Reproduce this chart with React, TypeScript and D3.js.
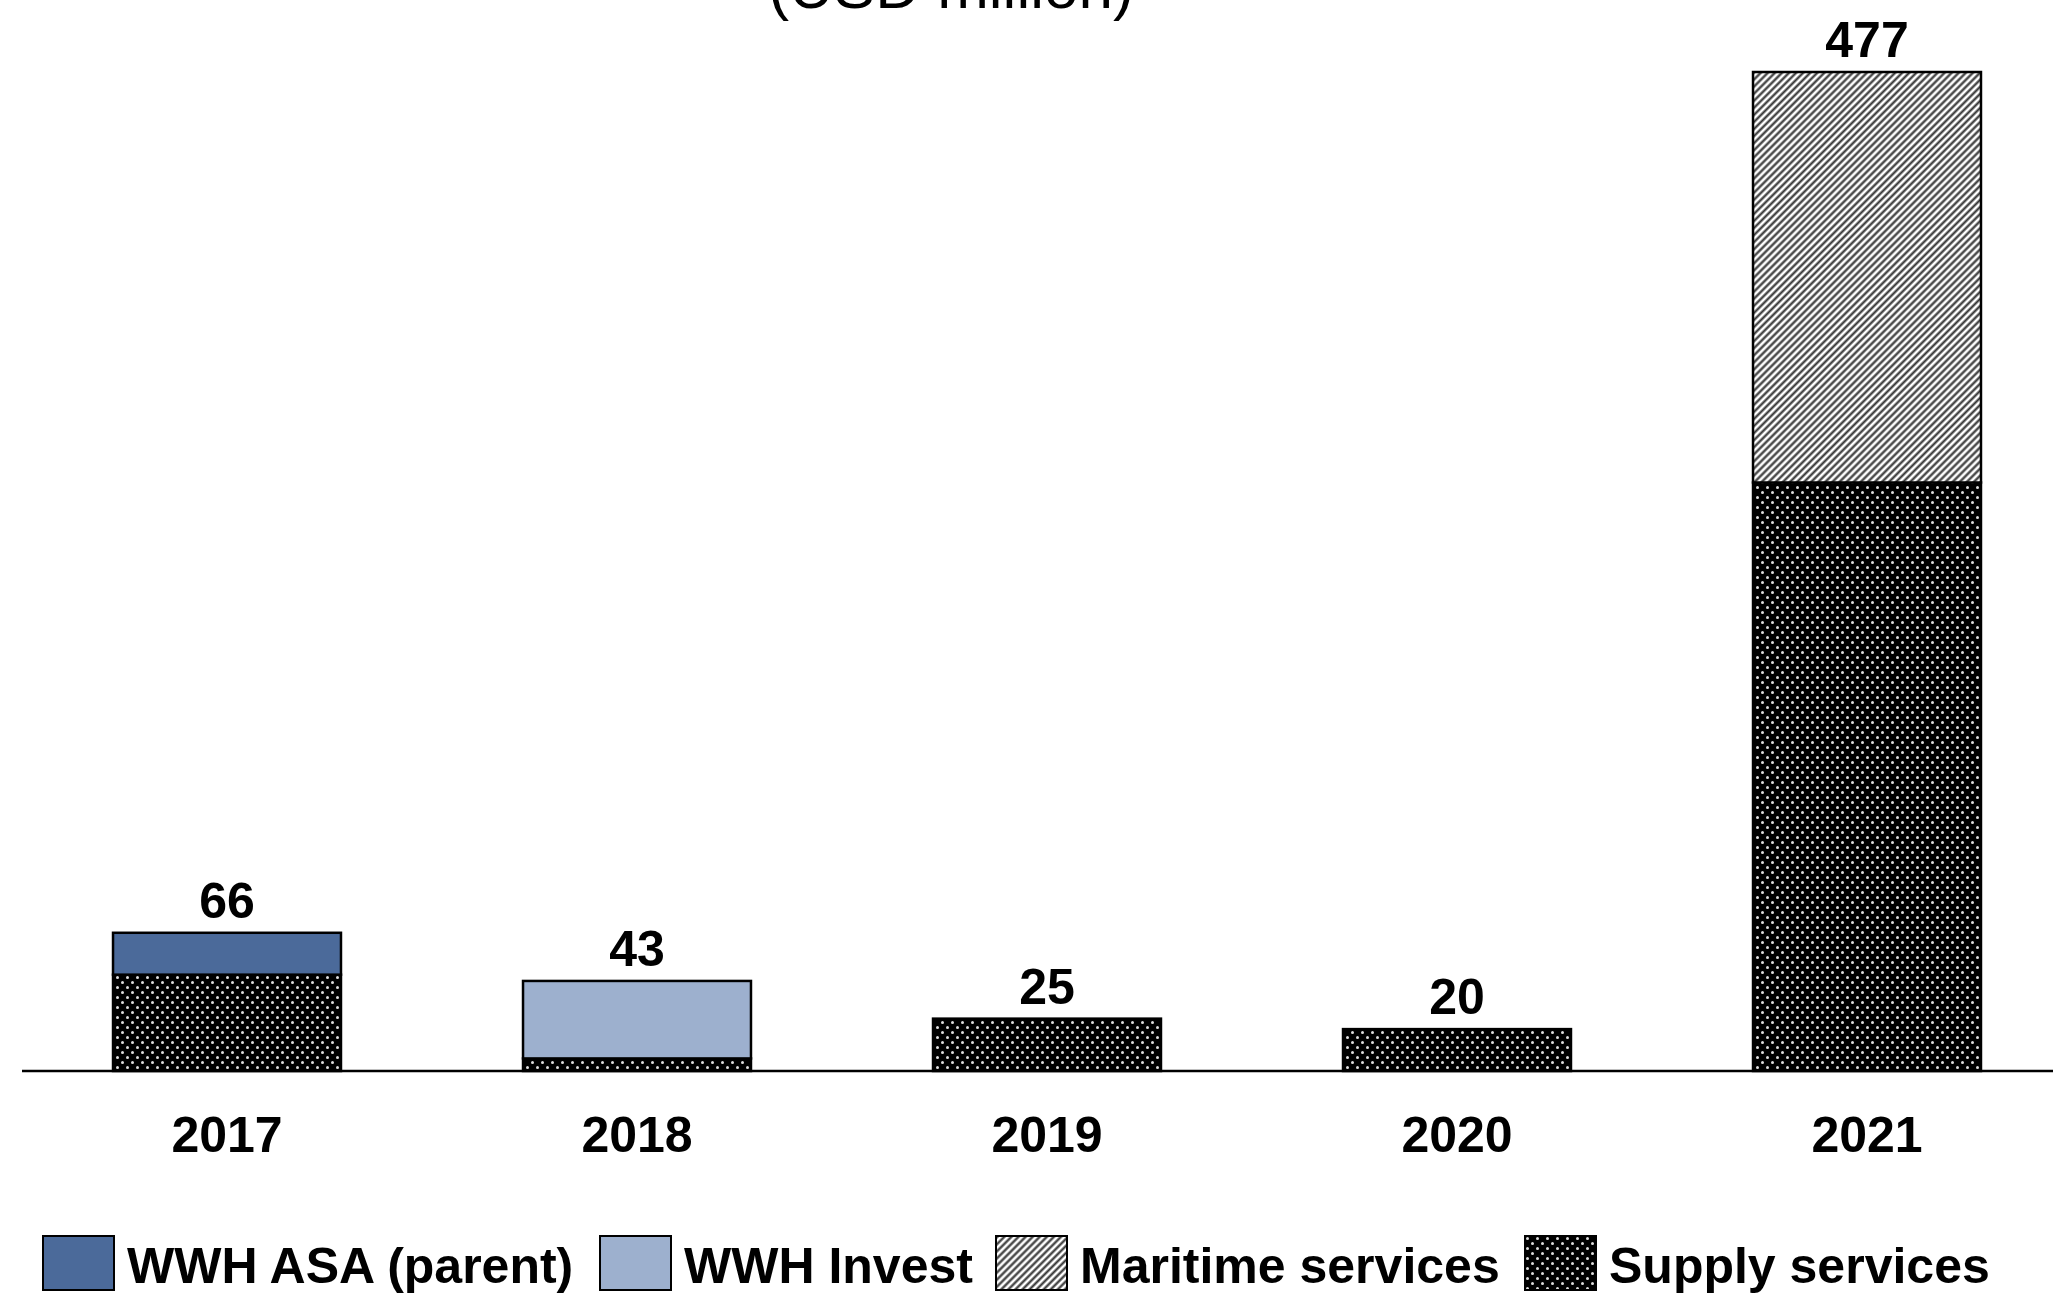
import React from 'react';
import * as d3 from 'd3';

const years = ['2017', '2018', '2019', '2020', '2021'];
const supplyServices = [46, 6, 25, 20, 281];
const wwhParent = [20, 0, 0, 0, 0];
const wwhInvest = [0, 37, 0, 0, 0];
const maritimeServices = [0, 0, 0, 0, 196];
const totals = [66, 43, 25, 20, 477];

const seriesKeys = ['supply', 'parent', 'invest', 'maritime'];
const legendLabels = ['WWH ASA (parent)', 'WWH Invest', 'Maritime services', 'Supply services'];
const legendKeys = ['parent', 'invest', 'maritime', 'supply'];

const W = 2053;
const H = 1298;
const FONT = '"Liberation Sans", Arial, Helvetica, sans-serif';

const fills: Record<string, string> = {
  parent: '#4B6A9A',
  invest: '#9DB0CE',
  maritime: 'url(#stripes)',
  supply: 'url(#dots)',
};

export default function App() {
  const rows = years.map((y, i) => ({
    year: y,
    supply: supplyServices[i],
    parent: wwhParent[i],
    invest: wwhInvest[i],
    maritime: maritimeServices[i],
  }));
  const stack = d3.stack<any>().keys(seriesKeys)(rows);

  const x = d3.scaleBand<string>().domain(years).range([22, 2072]).paddingInner(0.444).paddingOuter(0.222);
  const axisY = 1071;
  const y = d3.scaleLinear().domain([0, 477]).range([axisY, 72]);

  const legendX = [43, 600, 996, 1525];

  return (
    <svg width={W} height={H} style={{ position: 'absolute', left: 0, top: 0, background: '#fff' }}>
      <defs>
        <pattern id="stripes" width={5} height={5} patternUnits="userSpaceOnUse" patternTransform="rotate(45)">
          <rect width={5} height={5} fill="#fff" />
          <line x1={1.5} y1={0} x2={1.5} y2={5} stroke="#333" strokeWidth={2.2} />
        </pattern>
        <pattern id="dots" width={10} height={10} patternUnits="userSpaceOnUse">
          <rect width={10} height={10} fill="#000" />
          <circle cx={2.5} cy={2.5} r={1.5} fill="#ddd" />
          <circle cx={7.5} cy={7.5} r={1.5} fill="#ddd" />
        </pattern>
      </defs>

      <text x={951} y={8} textAnchor="middle" fontFamily={FONT} fontSize={62} fill="#000">
        (USD million)
      </text>

      {stack.map((s) =>
        s.map((d, i) => {
          const v = d[1] - d[0];
          if (v <= 0) return null;
          return (
            <rect
              key={s.key + i}
              x={x(years[i])}
              y={y(d[1])}
              width={x.bandwidth()}
              height={y(d[0]) - y(d[1])}
              fill={fills[s.key]}
              stroke="#000"
              strokeWidth={2.5}
            />
          );
        })
      )}

      <line x1={22} x2={W} y1={axisY} y2={axisY} stroke="#000" strokeWidth={2.5} />

      {years.map((yr, i) => (
        <text
          key={'t' + yr}
          x={(x(yr) as number) + x.bandwidth() / 2}
          y={y(totals[i]) - 15}
          textAnchor="middle"
          fontFamily={FONT}
          fontWeight="bold"
          fontSize={50}
          fill="#000"
        >
          {totals[i]}
        </text>
      ))}

      {years.map((yr) => (
        <text
          key={'c' + yr}
          x={(x(yr) as number) + x.bandwidth() / 2}
          y={1152}
          textAnchor="middle"
          fontFamily={FONT}
          fontWeight="bold"
          fontSize={50}
          fill="#000"
        >
          {yr}
        </text>
      ))}

      {legendKeys.map((k, i) => (
        <g key={'l' + k} transform={`translate(${legendX[i]},1236)`}>
          <rect width={71} height={54} fill={fills[k]} stroke="#000" strokeWidth={2} />
          <text x={84} y={47} fontFamily={FONT} fontWeight="bold" fontSize={50} fill="#000">
            {legendLabels[i]}
          </text>
        </g>
      ))}
    </svg>
  );
}
